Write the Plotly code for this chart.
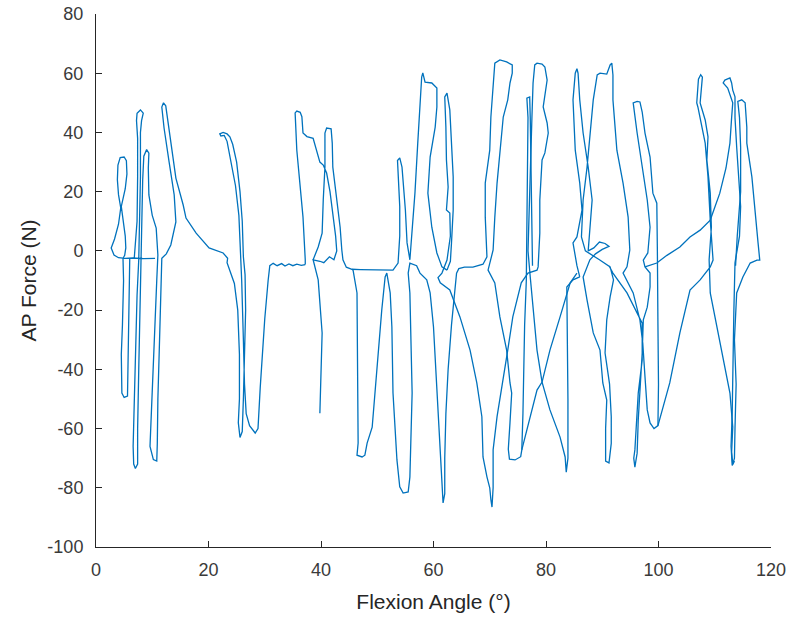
import plotly.graph_objects as go

# Flexion angle (deg), AP force (N) samples, grouped in pen strokes
stroke_a = [(10.5,-2.5),(8.5,-2.6),(6.5,-2.4),(5.2,-2.5),(4.0,-2.3),(3.2,-1.4),(2.7,1),(3.3,4),(4.0,9),(4.4,14.5),(4.0,19),(3.8,24),(3.9,29),(4.3,31.5),(5.0,31.7),(5.4,30.5),(5.5,26),(5.2,21),(4.5,15),(4.8,10),(5.2,5),(5.3,1),(5.1,-1.5),(4.8,-2.5),
(4.9,-10),(4.7,-25),(4.5,-35),(4.6,-48),(5.0,-49.5),(5.6,-49),(5.7,-40),(5.8,-25),(5.9,-10),(6.0,-2.5),(6.8,-2.5),
(7.3,10),(7.4,25),(7.4,38),(7.2,44),(7.3,46.5),(7.9,47.6),(8.4,46.5),(8.1,44),(7.9,40),(7.9,25),(7.8,10),(7.6,-3),(7.3,-15),(7.0,-35),(6.8,-55),(6.6,-66),(6.7,-72),(7.0,-73.5),(7.4,-72),(7.4,-60),(7.6,-40),(7.8,-20),(8.0,-5),(8.1,10),(8.3,24),(8.5,32),(9.0,34.2),(9.4,33),(9.3,28),(9.4,18.9),(10.0,12),(10.7,7.7),(11.0,-1.4),
(10.8,-10),(10.4,-30),(10.0,-48),(9.7,-60),(9.6,-66),(10.2,-70.5),(10.8,-71),(10.9,-65),(11.0,-50),(11.3,-30),(11.5,-12),(11.7,-2.5),
(12.5,-1),(13.3,2),(14.2,9.8),(13.9,18.9),(13.0,30),(12.1,41.5),(11.7,48.6),(12.0,50),(12.4,49),(12.7,45),(13.5,34.7),(14.2,24.6),(15.5,15.5),(16.0,11.1),(17.8,6),(20.1,1),(22.6,-0.7),(23.4,-2.5),(23.3,-4),(23.8,-7),(24.6,-11),(25.2,-20),
(25.5,-35),(25.5,-50),(25.3,-58),(25.6,-63),(26.0,-61),(26.2,-50),(26.4,-35),(26.6,-20),(26.5,-8),(26.2,-2),(26.0,10),(25.6,20),(25.0,30),(24.3,36),(23.8,38.5),(23.3,39.5),(22.6,40),(22.0,39.5),(22.2,38.8),(22.8,39),(23.3,37),(24.0,30),(24.8,22),(25.4,12),(25.6,3),(25.6,-2),(25.9,-10),(26.2,-30),(26.4,-45),(26.7,-55),(27.3,-59),(28.3,-61.5),(28.8,-60),(29.2,-46),(30.0,-23),(30.6,-10),(30.9,-5),
(31.5,-4.2),(32.2,-5.0),(33.0,-4.3),(33.6,-5.1),(34.3,-4.4),(35.0,-5.0),(35.7,-4.5),(36.5,-4.9),(37.2,-4.6)]

stroke_b = [(37.2,-4.6),(37.2,-3),(36.8,11.4),(36.3,22.9),(35.7,34),(35.4,46.6),(35.7,47.2),(36.3,46.8),(36.6,45.3),(36.8,39.8),(37.5,38.6),(38.6,38),(39.0,35),(39.8,30),(40.4,29),(41.0,26.3),(41.6,20),(42.2,12),(42.6,5),(42.8,0),(42.3,-3),(41.5,-2),(40.5,-4),(39.8,-3.5),(39.0,-3),(38.6,-3),(39.5,-9.8),(40.2,-27.7),(39.8,-54.8),(40.2,-27.7),(39.5,-9.8),(38.6,-3),(39.5,1.3),(40.2,6),(40.4,17.2),(40.7,28.3),(40.7,39.8),(41.0,41.5),(41.8,41.2),(42.0,36.4),(42.1,28.3),(42.8,17.2),(43.4,8),(43.7,0.3),(43.9,-3),(44.5,-5.5),(45.5,-6.2),(47,-6.3),(49,-6.4),(51,-6.6),(52.8,-6.5),(53.7,-4.1),(54.0,5),(54.0,15),(53.8,25),(53.6,30.5),(54.0,31.4),(54.4,28.3),(55.0,13.8),(55.3,2.7),(55.8,-3),
(56.2,6),(56.7,19.5),(57.2,36.4),(57.6,47.6),(57.9,58.7),(58.1,60.1),(58.5,57),(59.7,56.7),(60.6,55),(60.6,48.6),(60.3,41.8),(59.4,31.7),(59.0,19.5),(59.7,8),(60.6,-0.7),(61.5,-5.4),(62.4,-6.5)]

stroke_c = [(62.4,-6.5),(63.0,-3.5),(63.2,2.7),(63.5,13.8),(63.5,25),(63.2,36.4),(62.9,47.6),(62.4,53.3),(62.0,52),(62.2,41.8),(62.3,30.7),(62.6,21.6),(62.3,13.8),(62.9,12.8),(63.0,5),(62.4,-3.1),(61.5,-7.5),(60.8,-9),(61.2,-10.8),(62.9,-13.2),(64.7,-22.3),(66.5,-33.5),(67.7,-44.6),(68.6,-56),(68.8,-69.6),(69.5,-76.3),(70.0,-80),(70.2,-84),(70.4,-86.5),(70.6,-80),(70.6,-67.2),(71.3,-56),(72.2,-44.6),(73.2,-33.5),(74.1,-22.3),(75.6,-10.8),(76.8,-7.5),(78.4,-6.5),(78.6,-5.4),(78.9,6),(78.9,17.2),(79.3,30.7),(79.8,33.1),(80.4,39.8),(80.2,43.2),(79.5,48.6),(80.2,57.7),(79.8,62.1),(79.3,63.1),(78.4,63.4),(78.0,62.8),(77.7,56.7),(77.5,45.2),(77.3,30),(77.0,15),(76.8,0),(77.2,-8.8),(77.9,-22.3),(78.4,-33.5),(79.3,-44.3),(80.7,-53.7),(82.5,-62.9),(83.4,-69.6),(83.6,-74.7),(83.9,-70),(83.9,-50),(83.8,-30),(83.7,-12.2),(84.8,-9.8),(86.0,-8.8)]

stroke_d = [(45.5,-6.2),(45.7,-6.5),(46.4,-14.2),(46.6,-48),(46.6,-64.9),(46.4,-69),(47.3,-69.6),(47.8,-69),(48.2,-64.9),(49.1,-59.5),(50.0,-36.9),(50.8,-20),(51.4,-8.8),(51.7,-7.5),(52.3,-14.2),(52.6,-25.7),(52.8,-48),(53.5,-70.6),(54.0,-79.7),(54.6,-81.8),(55.5,-81.4),(55.8,-76.4),(56.2,-48),(56.0,-25.7),(55.8,-14.2),(55.5,-7.5),(55.8,-4.1),(57.0,-5),(57.6,-7.5),(58.8,-9.8),(59.4,-14.2),(60.0,-25.7),(60.6,-48),(61.2,-70.6),(61.7,-85.1),(62.0,-82),(62.0,-70),(62.2,-55),(62.6,-40),(63.2,-25),(63.8,-12),(64.1,-7.5),(64.5,-6),(65.5,-5.5),(67.0,-5.5),(68.8,-4.5),(69.5,-2),(69.2,11.4),(69.2,22.9),(70.0,34),(70.2,45.2),(70.6,56.7),(70.9,63.4),(71.8,64.5),(73.0,63.8),(74.0,62.8),(74.0,60),(73.6,56.7),(73.2,51),(72.4,45.2),(71.8,34),(71.3,22.9),(70.9,11.4),(70.6,0.3),(69.7,-6.5),(70.9,-10.8),(71.8,-22.3),(73.0,-33.5),(73.6,-44.6),(73.9,-48),(73.6,-58),(73.3,-67),(73.5,-70.3),(74.5,-70.6),(75.5,-69.5),(75.7,-67.2),(75.9,-55),(76.0,-40),(76.2,-25),(76.5,-10),(76.6,10),(76.8,30),(76.8,45),(76.6,51.6),(77.1,52),(77.2,45),(77.4,25),(77.5,5),(77.6,-5)]

stroke_e = [(75.7,-67.2),(77.2,-56),(78.4,-47),(79.3,-44.3),(80.7,-33.5),(82.5,-22.3),(84.3,-10.8),(85.5,-7.5)]

stroke_f = [(86.0,-8.8),(85.5,-5),(84.8,2.7),(85.5,4.7),(86.4,13.8),(86.0,22.9),(85.2,34),(84.8,51),(85.2,60),(85.5,61.5),(85.7,60),(86.0,51),(86.6,39.8),(87.5,28.3),(88.2,17.2),(87.8,6),(87.5,0),(88.5,1),(89.5,3),(90.5,2.5),(91.2,1.5),(90.0,0.5),(88.8,-1),(87.8,-3),(86.6,-8.8),(87.3,-16.6),(88.4,-27.7),(89.6,-33.5),(90.1,-44.6),(90.8,-50.4),(90.6,-60),(90.6,-71),(91.2,-71.6),(91.6,-65),(91.6,-56),(91.3,-45),(90.5,-34.5),(90.8,-23.3),(91.4,-15.5),(92.0,-9.8),(91.4,-5.4),(89.5,-3),(87.0,0),(86.3,4.7),(86.6,17.2),(87.3,28.3),(87.8,39.8),(88.4,51),(89.1,59.4),(89.6,60),(90.8,59.7),(91.4,62.8),(91.7,63.4),(91.9,59.4),(91.9,51),(92.6,34),(93.7,22.9),(94.6,11.4),(94.9,0.3),(94.4,-5.4),(93.7,-7.5),(95.5,-14.2),(96.7,-23.4),(97.2,-31.1),(97.6,-42.6),(98.0,-53.7),(98.5,-58.1),(99.2,-60),(99.9,-59),(100.0,-45),(99.9,-25),(99.9,-10.8),(99.8,0),(99.7,16.1),(99.0,19.5),(98.5,31.7),(97.6,39.8),(97.1,46.9),(96.7,50.3),(96.2,50.5),(95.5,50),(96.2,39.8),(97.1,28.3),(98.0,17.2),(98.5,8),(98.1,-0.7),(97.3,-3.1),(97.6,-5.4),(98.5,-7.5),(98.5,-12.2),(98.0,-19),(97.3,-23.3),(97.1,-34.5),(96.7,-46),(96.4,-57),(96.2,-68.3),(95.8,-73),(95.6,-70),(95.8,-67.2),(96.4,-48),(97.1,-36.9),(97.1,-24.4),(96.2,-21),(94.4,-14.2),(91.9,-7.5),(91.2,-5)]

stroke_g = [(97.6,-5.4),(99.7,-4.1),(101.5,-1.5),(103.8,1.3),(105.6,4.7),(107.4,7),(109.2,10.4),(110.9,19.5),(112.0,28),(112.7,36.4),(113.0,45),(113.2,50),(112.3,55),(111.5,56.7),(111.8,57.7),(112.7,58.4),(113.0,56.7),(113.2,54.3),(113.6,52),(113.6,45),(113.9,35),(114.3,25),(114.6,15),(114.4,5),(113.9,0),(113.6,-4),(113.4,-20),(113.3,-40),(113.1,-55),(112.9,-66),(113.1,-72.5),(113.5,-71)]

stroke_h = [(99.9,-59),(102.0,-44.6),(103.8,-27.7),(105.6,-13.2),(107.4,-9.8),(109.2,-5.4),(109.7,-3.1),(109.2,10.4),(108.8,25),(108.3,36.4),(107.0,48.6),(106.8,50),(107.1,58),(107.5,59.5),(107.8,58.7),(107.4,50),(108.3,44.2),(108.8,38.5),(108.6,30.7),(109.2,19.5),(109.4,8),(109.0,-3),(109.2,-14.2),(110.4,-25.7),(111.5,-36.9),(112.7,-48),(113.2,-59.5),(113.0,-68),(113.2,-72),(113.5,-70),(113.6,-60),(113.8,-45),(113.5,-30),(113.9,-14.2),(115.0,-8.8),(116.3,-4.1),(117.5,-3.1),(118.0,-3.1),(117.7,2.7),(117.2,13.8),(116.6,25),(115.7,36.4),(115.7,41.8),(115.4,50),(114.8,51),(114.1,50.5),(114.4,45),(114.6,35),(114.6,20),(114.0,5),(113.7,-5)]

x_ticks = [0, 20, 40, 60, 80, 100, 120]
x_tick_text = ["0", "20", "40", "60", "80", "100", "120"]
y_ticks = [-100, -80, -60, -40, -20, 0, 20, 40, 60, 80]
y_tick_text = ["-100", "-80", "-60", "-40", "-20", "0", "20", "40", "60", "80"]

strokes = [stroke_a, stroke_b, stroke_c, stroke_d, stroke_e, stroke_f, stroke_g, stroke_h]
angle, force = [], []
for s in strokes:
    angle += [p[0] for p in s] + [None]
    force += [p[1] for p in s] + [None]

axis_col = "#262626"
fig = go.Figure(go.Scatter(x=angle, y=force, mode="lines", connectgaps=False,
                           line=dict(color="#0072BD", width=1.3), hoverinfo="skip"))
fig.update_layout(
    width=788, height=619, margin=dict(l=96, r=17, t=14, b=72),
    paper_bgcolor="white", plot_bgcolor="white", showlegend=False,
    font=dict(family="Liberation Sans, Arial, sans-serif", color=axis_col),
)
fig.update_xaxes(range=[0, 120], tickvals=x_ticks, ticktext=x_tick_text, ticks="inside", ticklen=6,
                 tickcolor=axis_col, showline=True, linecolor=axis_col, linewidth=1, showgrid=False,
                 zeroline=False, automargin=False, ticklabelstandoff=6, ticklabeloverflow="allow",
                 tickfont=dict(size=18, color="#3a3a3a"), mirror=False,
                 title=dict(text="Flexion Angle (°)", font=dict(size=21, color="#262626"), standoff=15))
fig.update_yaxes(range=[-100, 80], tickvals=y_ticks, ticktext=y_tick_text, ticks="inside", ticklen=6,
                 tickcolor=axis_col, showline=True, linecolor=axis_col, linewidth=1, showgrid=False,
                 zeroline=False, automargin=False, ticklabelstandoff=8, ticklabeloverflow="allow",
                 tickfont=dict(size=18, color="#3a3a3a"), mirror=False,
                 title=dict(text="AP Force (N)", font=dict(size=21, color="#262626"), standoff=5))
# remove the page's default body margin so the 788x619 figure fills the window exactly
fig.write_html("out.html", config={"displayModeBar": False, "staticPlot": True},
               post_script="document.body.style.margin='0';document.body.style.overflow='hidden';")
